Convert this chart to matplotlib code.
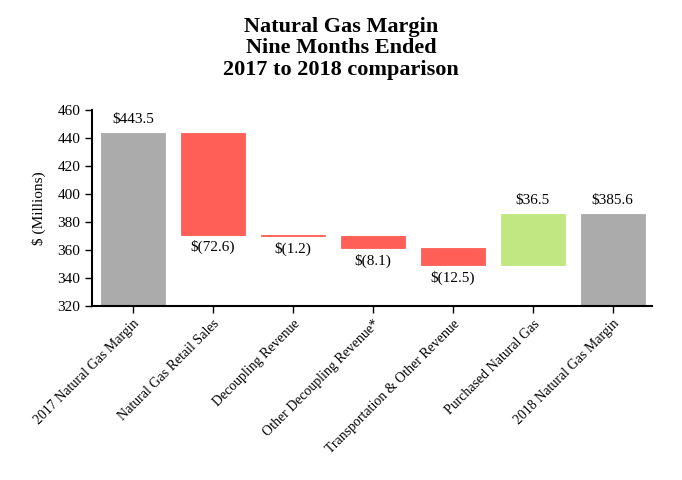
import matplotlib.pyplot as plt

plt.rcParams["font.family"] = ["Liberation Serif", "DejaVu Serif"]

# Waterfall data
categories = [
    "2017 Natural Gas Margin",
    "Natural Gas Retail Sales",
    "Decoupling Revenue",
    "Other Decoupling Revenue*",
    "Transportation & Other Revenue",
    "Purchased Natural Gas",
    "2018 Natural Gas Margin",
]
changes = [443.5, -72.6, -1.2, -8.1, -12.5, 36.5, 385.6]
labels = ["$443.5", "$(72.6)", "$(1.2)", "$(8.1)", "$(12.5)", "$36.5", "$385.6"]
kinds = ["total", "delta", "delta", "delta", "delta", "delta", "total"]

colors = {"total": "#ababab", "neg": "#ff5f57", "pos": "#c1e783"}
ymin = 320

fig = plt.figure(figsize=(6.82, 4.8), dpi=100)
ax = fig.add_axes([0.135, 0.3625, 0.821, 0.4085])

running = 0
for i, (val, lab, kind) in enumerate(zip(changes, labels, kinds)):
    if kind == "total":
        bottom, height = ymin, val - ymin
        running = val
        col = colors["total"]
        ax.text(i, val + 5, lab, ha="center", va="bottom", fontsize=11)
    else:
        start = running
        running = running + val
        bottom = min(start, running)
        height = abs(val)
        if val < 0:
            col = colors["neg"]
            ax.text(i, bottom - 4, lab, ha="center", va="top", fontsize=11)
        else:
            col = colors["pos"]
            ax.text(i, running + 5, lab, ha="center", va="bottom", fontsize=11)
    ax.bar(i, height, bottom=bottom, width=0.8, color=col, edgecolor=col, linewidth=0.6)

ax.set_xlim(-0.51, 6.49)
ax.set_ylim(320, 460)
ax.set_yticks(range(320, 461, 20))
ax.set_xticks(range(len(categories)))
ax.set_xticklabels(categories, rotation=45, ha="right", rotation_mode="anchor", fontsize=10)
ax.tick_params(axis="y", labelsize=11, length=5, width=1)
ax.tick_params(axis="x", length=5, width=1, pad=3)
ax.set_ylabel("$ (Millions)", fontsize=11, labelpad=8)

for side in ["top", "right"]:
    ax.spines[side].set_visible(False)
for side in ["left", "bottom"]:
    ax.spines[side].set_linewidth(1.5)

fig.text(0.5, 0.965, "Natural Gas Margin\nNine Months Ended\n2017 to 2018 comparison",
         ha="center", va="top", fontsize=16, fontweight="bold", linespacing=1.1)

fig.savefig("out.png", dpi=100)
